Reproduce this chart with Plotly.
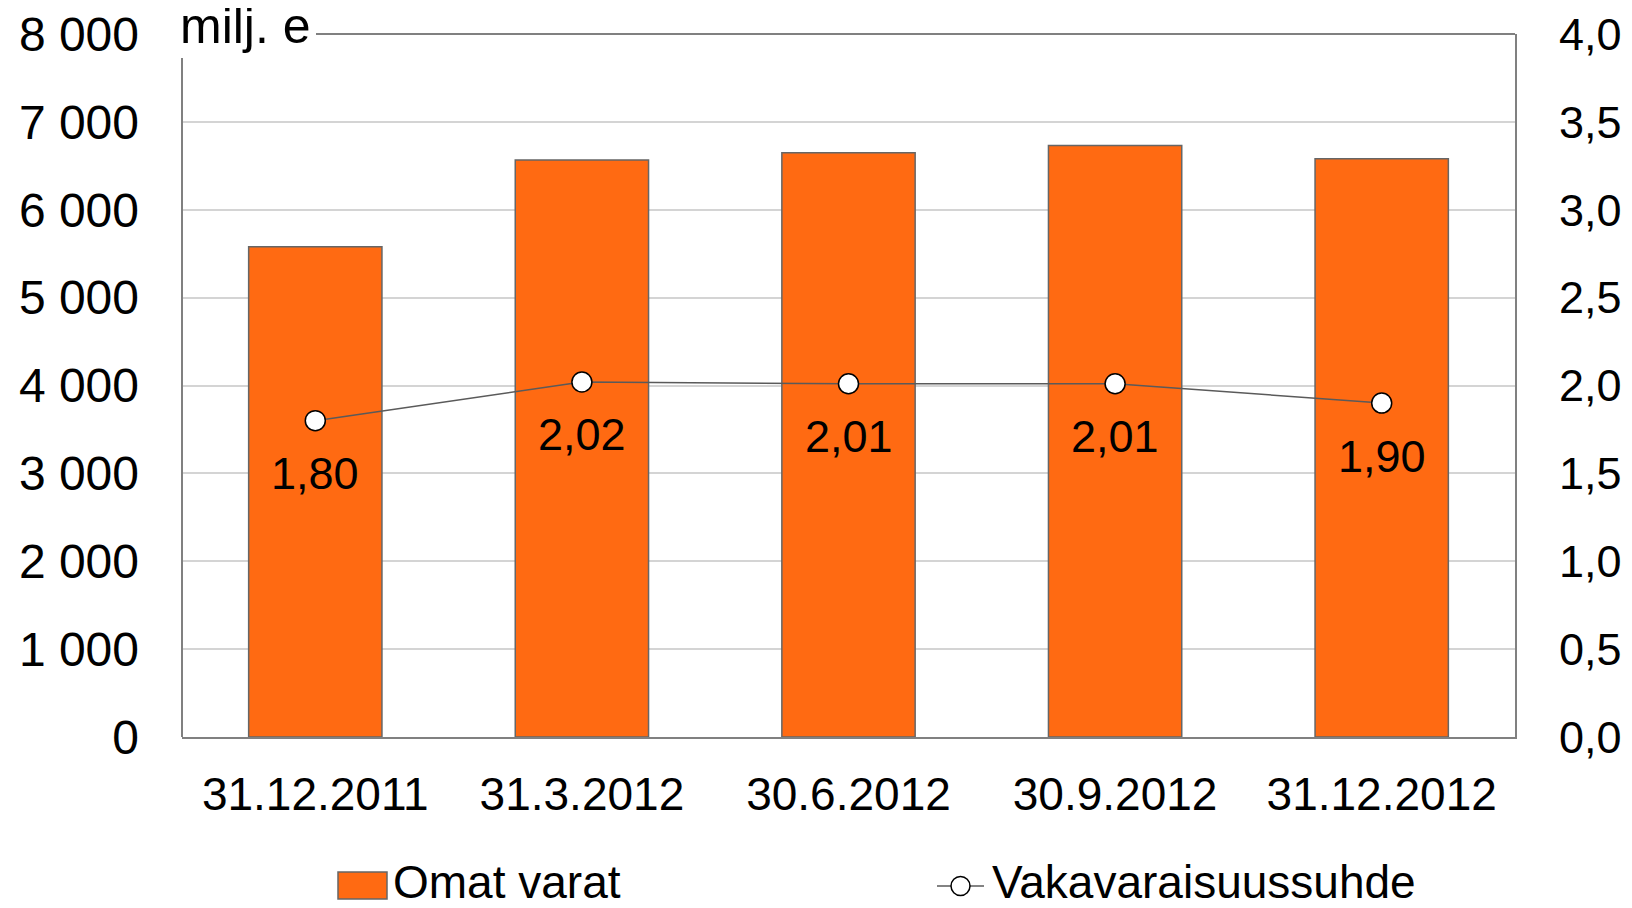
import plotly.graph_objects as go

# ---- data ----
categories = ["31.12.2011", "31.3.2012", "30.6.2012", "30.9.2012", "31.12.2012"]
omat_varat = [5580, 6565, 6650, 6730, 6580]          # milj. e
vakavaraisuus = [1.80, 2.02, 2.01, 2.01, 1.90]        # ratio
left_ticks = [0, 1000, 2000, 3000, 4000, 5000, 6000, 7000, 8000]
left_ticktext = ["0", "1 000", "2 000", "3 000", "4 000", "5 000", "6 000", "7 000", "8 000"]
right_ticks = [0, 0.5, 1.0, 1.5, 2.0, 2.5, 3.0, 3.5, 4.0]
right_ticktext = ["0,0", "0,5", "1,0", "1,5", "2,0", "2,5", "3,0", "3,5", "4,0"]
series_names = ["Omat varat", "Vakavaraisuussuhde"]
unit_label = "milj. e"

# ---- styling ----
FONT = "Liberation Sans, Arial, sans-serif"
ORANGE = "#FF6A12"
AXIS = "#808080"
GRID = "#D4D4D4"
OFF = 8                      # page body margin
PAGE_W, PAGE_H = 1632, 908
W, H = PAGE_W - OFF, PAGE_H - OFF
# plot area in page pixel coordinates
L, R, T, B = 182, 1515, 34, 737
PW, PH = R - L, B - T


def px_x(px):
    return (px - L) / PW


def px_y(py):
    return (B - py) / PH


fig = go.Figure()
fig.add_trace(go.Bar(
    x=categories, y=omat_varat, name=series_names[0], width=0.5,
    marker=dict(color=ORANGE, line=dict(color="#666666", width=1.5)),
    showlegend=False, yaxis="y",
))
fig.add_trace(go.Scatter(
    x=categories, y=vakavaraisuus, name=series_names[1], mode="lines+markers",
    line=dict(color="#5a5a5a", width=1.5),
    marker=dict(size=20, color="white", line=dict(color="black", width=1.5)),
    showlegend=False, yaxis="y2",
))

annotations = []
for c, v in zip(categories, vakavaraisuus):
    annotations.append(dict(
        x=c, y=v, xref="x", yref="y2", text=f"{v:.2f}".replace(".", ","),
        showarrow=False, yshift=-53, font=dict(size=45, color="black", family=FONT),
    ))

annotations.append(dict(
    x=px_x(178), y=px_y(26), xref="paper", yref="paper", xanchor="left", yanchor="middle",
    text=unit_label, showarrow=False, font=dict(size=50, color="black", family=FONT),
))
annotations.append(dict(
    x=px_x(391), y=px_y(882), xref="paper", yref="paper", xanchor="left", yanchor="middle",
    text=series_names[0], showarrow=False, font=dict(size=46, color="black", family=FONT),
))
annotations.append(dict(
    x=px_x(990), y=px_y(882), xref="paper", yref="paper", xanchor="left", yanchor="middle",
    text=series_names[1], showarrow=False, font=dict(size=46, color="black", family=FONT),
))

shapes = [
    # left axis line (stops below unit label)
    dict(type="line", xref="paper", yref="paper", x0=0, x1=0, y0=0, y1=px_y(58),
         line=dict(color=AXIS, width=2)),
    # top frame line
    dict(type="line", xref="paper", yref="paper", x0=px_x(316), x1=1, y0=1, y1=1,
         line=dict(color=AXIS, width=2)),
    # legend: bar swatch
    dict(type="rect", xref="paper", yref="paper", x0=px_x(338), x1=px_x(387),
         y0=px_y(899), y1=px_y(872), fillcolor=ORANGE, line=dict(color="#666666", width=1.5)),
    # legend: line swatch
    dict(type="line", xref="paper", yref="paper", x0=px_x(937), x1=px_x(984),
         y0=px_y(886), y1=px_y(886), line=dict(color="#5a5a5a", width=1.5)),
    dict(type="circle", xref="paper", yref="paper", x0=px_x(951), x1=px_x(970),
         y0=px_y(895.5), y1=px_y(876.5), fillcolor="white", line=dict(color="black", width=1.5)),
]

fig.update_layout(
    width=W, height=H,
    margin=dict(l=L - OFF, r=(PAGE_W) - R, t=T - OFF, b=(PAGE_H) - B, pad=0,
                autoexpand=False),
    paper_bgcolor="white", plot_bgcolor="white",
    font=dict(family=FONT, size=46, color="black"),
    bargap=0.5,
    showlegend=False,
    xaxis=dict(
        type="category", showline=True, linecolor=AXIS, linewidth=2, ticks="",
        showgrid=False, tickfont=dict(size=46), ticklabelstandoff=16, automargin=False,
    ),
    yaxis=dict(
        range=[0, 8000], tickvals=left_ticks, ticktext=left_ticktext,
        showgrid=True, gridcolor=GRID, gridwidth=1.5, zeroline=False,
        showline=False, ticks="", tickfont=dict(size=48), ticklabelstandoff=42,
        automargin=False, ticklabeloverflow="allow",
    ),
    yaxis2=dict(
        range=[0, 4], tickvals=right_ticks, ticktext=right_ticktext, overlaying="y",
        side="right", showgrid=False, zeroline=False, showline=True, linecolor=AXIS,
        linewidth=2, ticks="", tickfont=dict(size=45), ticklabelstandoff=33,
        automargin=False, ticklabeloverflow="allow",
    ),
    annotations=annotations,
    shapes=shapes,
)

fig.write_html("out.html")
